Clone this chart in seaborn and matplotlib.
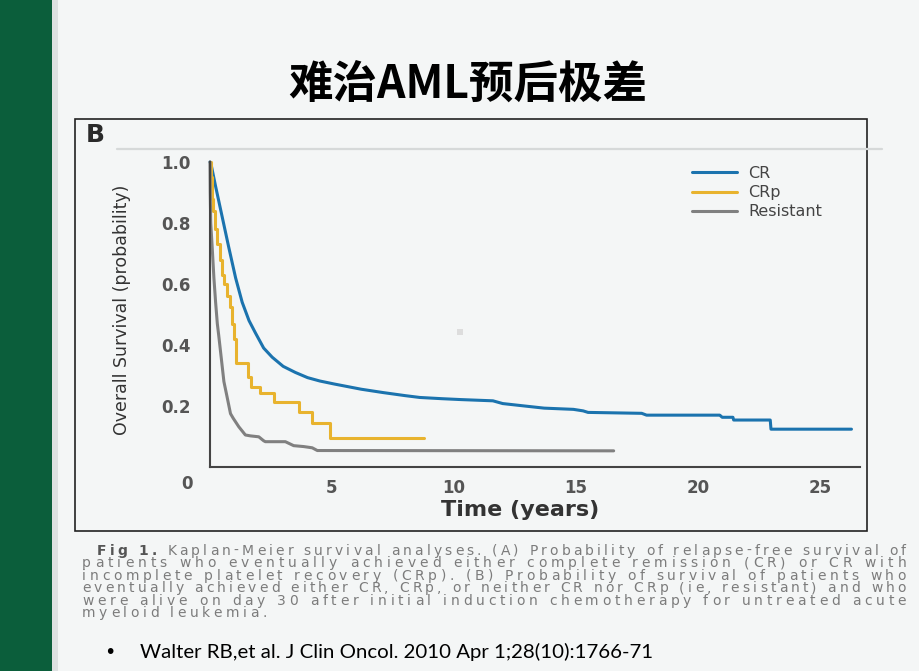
import matplotlib
matplotlib.use("Agg")
import matplotlib.pyplot as plt
import matplotlib.font_manager as fm
from matplotlib.patches import Rectangle
from matplotlib.lines import Line2D
import pandas as pd
import seaborn as sns

W, H = 920, 671
BG = "#F4F6F6"
GREEN = "#0B5E3B"
INK = "#333333"
COLORS = {"CR": "#1B73AE", "CRp": "#E8B32E", "Resistant": "#808080"}
GROUPS = ["CR", "CRp", "Resistant"]

# --- Kaplan-Meier curves (years, survival) ---
# CR and Resistant: vertices of the (finely stepped) curve
cr_time = [0, 0.05, 0.23, 0.5, 0.77, 1.05, 1.32, 1.6, 1.86, 2.2, 2.55, 3.0, 3.5,
           4.0, 4.5, 5.1, 6.2, 7.1, 8.0, 8.6, 9.5, 10.3, 11.6, 12.0, 12.9, 13.7,
           14.9, 15.3, 15.5, 17.7, 17.9, 20.9, 21.0, 21.44, 21.47, 22.97, 23.0, 26.3]
cr_surv = [1.0, 0.99, 0.92, 0.82, 0.72, 0.62, 0.54, 0.48, 0.44, 0.39, 0.36, 0.33,
           0.31, 0.293, 0.282, 0.272, 0.255, 0.244, 0.234, 0.228, 0.224, 0.221,
           0.217, 0.208, 0.20, 0.193, 0.189, 0.184, 0.179, 0.176, 0.17, 0.17,
           0.163, 0.163, 0.154, 0.154, 0.124, 0.124]

# CRp: step function (value holds until the next time)
crp_time = [0, 0.05, 0.1, 0.14, 0.2, 0.29, 0.4, 0.5, 0.56, 0.7, 0.84, 0.9, 0.97,
            1.05, 1.55, 1.7, 2.07, 2.61, 3.64, 4.19, 4.94, 8.76]
crp_surv = [1.0, 0.95, 0.88, 0.84, 0.78, 0.73, 0.68, 0.63, 0.60, 0.56, 0.525,
            0.47, 0.42, 0.34, 0.296, 0.263, 0.244, 0.214, 0.181, 0.145, 0.094, 0.094]

res_time = [0, 0.01, 0.03, 0.09, 0.16, 0.23, 0.3, 0.36, 0.5, 0.57, 0.7, 0.84,
            0.95, 1.18, 1.3, 1.45, 1.66, 2.0, 2.2, 2.27, 3.09, 3.43, 3.84, 4.19,
            4.4, 16.55]
res_surv = [1.0, 0.9, 0.8, 0.72, 0.62, 0.54, 0.47, 0.43, 0.33, 0.28, 0.23, 0.175,
            0.16, 0.132, 0.12, 0.105, 0.102, 0.099, 0.086, 0.083, 0.083, 0.07,
            0.067, 0.063, 0.054, 0.053]

x_ticks = [5, 10, 15, 20, 25]
y_ticks = [0.2, 0.4, 0.6, 0.8, 1.0]

title = "难治AML预后极差"
caption = [
    "Fig 1. Kaplan-Meier survival analyses. (A) Probability of relapse-free survival of",
    "patients who eventually achieved either complete remission (CR) or CR with",
    "incomplete platelet recovery (CRp). (B) Probability of survival of patients who",
    "eventually achieved either CR, CRp, or neither CR nor CRp (ie, resistant) and who",
    "were alive on day 30 after initial induction chemotherapy for untreated acute",
    "myeloid leukemia.",
]
citation = "Walter RB,et al. J Clin Oncol. 2010 Apr 1;28(10):1766-71"

df = pd.concat([
    pd.DataFrame({"time": cr_time, "surv": cr_surv, "group": "CR"}),
    pd.DataFrame({"time": crp_time, "surv": crp_surv, "group": "CRp"}),
    pd.DataFrame({"time": res_time, "surv": res_surv, "group": "Resistant"}),
], ignore_index=True)

sns.set_style("white")
plt.rcParams["font.family"] = ["DejaVu Sans"]

names = {f.name for f in fm.fontManager.ttflist}
NARROW = "Liberation Sans Narrow" if "Liberation Sans Narrow" in names else "DejaVu Sans"


def fx(x):
    return x / W


def fy(y):
    return 1 - y / H


fig = plt.figure(figsize=(W / 100, H / 100), dpi=100)
fig.patch.set_facecolor(BG)

# slide decoration: green side bar + light edge
fig.add_artist(Rectangle((0, 0), fx(52), 1, transform=fig.transFigure,
                         color=GREEN, lw=0, zorder=0))
fig.add_artist(Rectangle((fx(52), 0), fx(6), 1, transform=fig.transFigure,
                         color="#dde1e1", lw=0, zorder=0))

fig.text(fx(468), fy(85), title, ha="center", va="center", fontsize=32,
         fontweight="bold", family=["Noto Sans CJK SC", "DejaVu Sans"], color="black")

# embedded figure frame
fig.add_artist(Rectangle((fx(75), fy(531)), fx(867 - 75), (531 - 119) / H,
                         transform=fig.transFigure, fill=False, ec="#222222", lw=1.2))
fig.add_artist(Line2D([fx(117), fx(882)], [fy(149), fy(149)], color="#d6d9d9", lw=1.6))
fig.add_artist(Rectangle((fx(457), fy(335)), fx(6), 6 / H, transform=fig.transFigure,
                         color="#dddddd", lw=0))
fig.text(fx(86), fy(135), "B", fontsize=18, fontweight="bold", color="#2a2a2a",
         va="center", ha="left")

# --- KM plot ---
ax = fig.add_axes([fx(210), fy(467), fx(860 - 210), (467 - 162) / H])
ax.set_facecolor("none")
sns.lineplot(data=df, x="time", y="surv", hue="group", hue_order=GROUPS,
             palette=COLORS, estimator=None, sort=False, linewidth=2.2, ax=ax)
for ln in ax.lines:
    ln.set_clip_on(False)
ax.lines[1].set_drawstyle("steps-post")  # CRp has coarse visible steps

ax.set_xlim(0, 26.65)
ax.set_ylim(0, 1.0)
ax.set_xticks(x_ticks)
ax.set_yticks(y_ticks)
sns.despine(ax=ax)
for side in ["left", "bottom"]:
    ax.spines[side].set_color("#444444")
    ax.spines[side].set_linewidth(1.5)
ax.tick_params(axis="y", direction="out", length=6, width=1.5, color="#444444",
               pad=8, labelsize=12, labelcolor="#555555")
ax.tick_params(axis="x", direction="out", length=4.5, width=1.5, color="#444444",
               pad=4, labelsize=12, labelcolor="#555555")
for lbl in ax.get_xticklabels() + ax.get_yticklabels():
    lbl.set_fontweight("bold")
ax.text(-0.96, (467 - 484) / 305, "0", transform=ax.get_xaxis_transform(),
        ha="center", va="center", fontsize=12, fontweight="bold", color="#555555")

ax.set_ylabel("Overall Survival (probability)", fontsize=16 if NARROW != "DejaVu Sans" else 12.5,
              family=[NARROW, "DejaVu Sans"], color=INK)
ax.yaxis.set_label_coords((131 - 210) / 650, (467 - 310) / 305)
ax.set_xlabel("Time (years)", fontsize=16, fontweight="bold", color=INK)
ax.xaxis.set_label_coords((520 - 210) / 650, (467 - 500) / 305)

sns.move_legend(ax, loc="upper left", bbox_to_anchor=(fx(692), fy(166)),
                bbox_transform=fig.transFigure, frameon=False, title=None,
                fontsize=11.5, labelcolor="#444444", borderpad=0, borderaxespad=0,
                handlelength=2.8, handletextpad=0.7, labelspacing=0.26)

# --- caption: justified, letters spread across the column ---
renderer = fig.canvas.get_renderer()
CAP_FS = 10
probe = fig.text(0, 0, "", fontsize=CAP_FS)
adv_cache = {}


def advance(c, weight):
    key = (c, weight)
    if key not in adv_cache:
        probe.set_fontweight(weight)
        probe.set_text("|" + c + "|")
        w1 = probe.get_window_extent(renderer).width
        probe.set_text("||")
        w0 = probe.get_window_extent(renderer).width
        adv_cache[key] = w1 - w0
    return adv_cache[key]


left, right = 82, 906
extras = []
layouts = []
for i, line in enumerate(caption):
    start = 97 if i == 0 else left
    weights = ["bold" if (i == 0 and k < 6) else "normal" for k in range(len(line))]
    advs = [advance(c, w) for c, w in zip(line, weights)]
    layouts.append((start, weights, advs))
    if i < len(caption) - 1:
        extras.append((right - start - sum(advs)) / (len(line) - 1))
probe.remove()

for i, line in enumerate(caption):
    start, weights, advs = layouts[i]
    extra = extras[i] if i < len(extras) else sum(extras) / len(extras)
    y = fy(551 + i * 12.4)
    x = start
    for c, w, a in zip(line, weights, advs):
        if c != " ":
            fig.text(fx(x), y, c, fontsize=CAP_FS, va="center", ha="left",
                     color="#555555" if w == "bold" else "#7c7c7c", fontweight=w)
        x += a + extra

fig.text(fx(104), fy(652), "•", fontsize=14, va="center", ha="left", color="black")
fig.text(fx(140), fy(652), citation, fontsize=14.7, va="center", ha="left",
         family=["Lato", "DejaVu Sans"], color="black")

fig.savefig("out.png", dpi=100, facecolor=BG)
